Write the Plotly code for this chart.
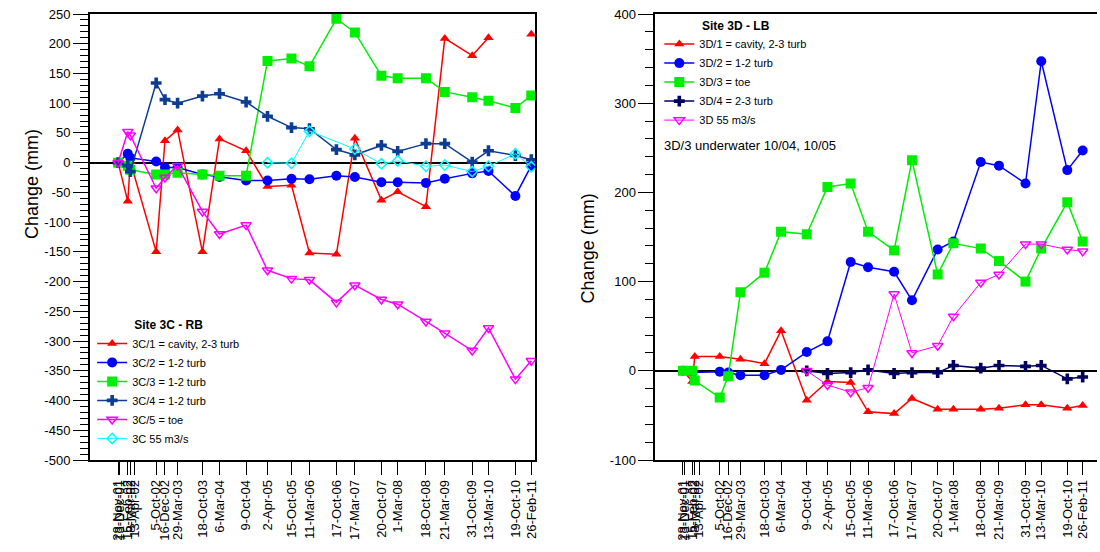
import plotly.graph_objects as go

# Survey dates (shared by both sites) and their axis labels
survey_dates = ["2001-11-28", "2001-12-13", "2002-02-15", "2002-03-08", "2002-04-13",
                "2002-10-05", "2002-12-16", "2003-03-29", "2003-10-18", "2004-03-06",
                "2004-10-09", "2005-04-02", "2005-10-15", "2006-03-11", "2006-10-17",
                "2007-03-17", "2007-10-20", "2008-03-01", "2008-10-18", "2009-03-21",
                "2009-10-31", "2010-03-13", "2010-10-19", "2011-02-26"]
date_labels = ["28-Nov-01", "13-Dec-01", "15-Feb-02", "8-Mar-02", "13-Apr-02",
               "5-Oct-02", "16-Dec-02", "29-Mar-03", "18-Oct-03", "6-Mar-04",
               "9-Oct-04", "2-Apr-05", "15-Oct-05", "11-Mar-06", "17-Oct-06",
               "17-Mar-07", "20-Oct-07", "1-Mar-08", "18-Oct-08", "21-Mar-09",
               "31-Oct-09", "13-Mar-10", "19-Oct-10", "26-Feb-11"]

# Site 3C - RB, change in mm (None = not surveyed)
c3_1 = [0, None, -65, 2, None, -150, 37, 55, -150, 40, 20, -40, -38, -152, -154, 41,
        -63, -49, -74, 209, 180, 210, None, 216]
c3_2 = [0, None, 15, 8, None, 2, -8, -8, -20, -24, -30, -30, -27, -28, -22, -24,
        -33, -33, -34, -27, -18, -14, -56, -5]
c3_3 = [0, None, -5, -12, None, -20, -20, -17, -20, -22, -22, 171, 175, 162, 242, 219,
        146, 142, 142, 119, 110, 104, 92, 113]
c3_4 = [0, None, -5, -15, None, 134, 106, 100, 112, 116, 102, 78, 59, 57, 22, 13,
        29, 19, 32, 32, 1, 20, 12, 5]
c3_5 = [0, None, 52, 46, None, -43, -25, -5, -82, -120, -105, -181, -195, -197, -235, -206,
        -230, -238, -267, -287, -316, -278, -364, -333]
c3_55 = [None, None, None, None, None, None, None, None, None, None, None, 0, -1, 53, None, 23,
         -2, 3, -6, -4, -15, -6, 15, -7]

# Site 3D - LB, change in mm
d3_1 = [0, None, -12, 16, None, 16, None, 13, 8, 45, -33, -12, -13, -46, -48, -31,
        -43, -43, -43, -42, -38, -38, -42, -39]
d3_2 = [0, None, -2, None, None, -1, -2, -5, -5, 1, 21, 33, 122, 116, 111, 79,
        136, 145, 234, 230, 210, 347, 225, 247]
d3_3 = [0, None, 0, -11, None, -30, -6, 88, 110, 156, 153, 206, 210, 156, 135, 236,
        108, 143, 137, 123, 100, 137, 189, 145]
d3_4 = [None, None, None, None, None, None, None, None, None, None, 0, -3, -2, 1, -3, -2,
        -2, 6, 3, 6, 5, 6, -9, -7]
d3_55 = [None, None, None, None, None, None, None, None, None, None, 0, -16, -24, -19, 86, 20,
         28, 61, 99, 108, 142, 142, 136, 134]

left_ticks = [250, 200, 150, 100, 50, 0, -50, -100, -150, -200, -250, -300, -350, -400, -450, -500]
right_ticks = [400, 300, 200, 100, 0, -100]

FONT = "Liberation Sans, Arial, sans-serif"


def series(name, vals, color, symbol, size, axis, legend, breaks=(), open_marker=False, lw=1.5):
    """Skip unsurveyed dates; a date in `breaks` ends the line segment."""
    xs, ys = [], []
    for d, v in zip(survey_dates, vals):
        if v is not None or d in breaks:
            xs.append(d)
            ys.append(v)
    marker = dict(symbol=symbol, size=size, color=color)
    if open_marker:
        marker = dict(symbol=symbol + "-open", size=size, color=color, line=dict(width=1.5, color=color))
    return go.Scatter(x=xs, y=ys, name=name, mode="lines+markers",
                      line=dict(color=color, width=lw), marker=marker,
                      connectgaps=False, xaxis="x" if axis == 1 else "x2",
                      yaxis="y" if axis == 1 else "y2", legend=legend)


fig = go.Figure()
fig.add_trace(series("3C/1 = cavity, 2-3 turb", c3_1, "#ff0000", "triangle-up", 9, 1, "legend",
                     breaks=("2010-10-19",)))
fig.add_trace(series("3C/2 = 1-2 turb", c3_2, "#0000ff", "circle", 10, 1, "legend"))
fig.add_trace(series("3C/3 = 1-2 turb", c3_3, "#00ee00", "square", 10, 1, "legend"))
fig.add_trace(series("3C/4 = 1-2 turb", c3_4, "#0d3d92", "cross", 9, 1, "legend"))
fig.add_trace(series("3C/5 = toe", c3_5, "#ff00ff", "triangle-down", 9, 1, "legend", open_marker=True))
fig.add_trace(series("3C 55 m3/s", c3_55, "#00ffff", "diamond", 8, 1, "legend", open_marker=True, lw=1))

fig.add_trace(series("3D/1 = cavity, 2-3 turb", d3_1, "#ff0000", "triangle-up", 9, 2, "legend2"))
fig.add_trace(series("3D/2 = 1-2 turb", d3_2, "#0000ff", "circle", 10, 2, "legend2"))
fig.add_trace(series("3D/3 = toe", d3_3, "#00ee00", "square", 10, 2, "legend2"))
fig.add_trace(series("3D/4 = 2-3 turb", d3_4, "#000060", "cross", 9, 2, "legend2"))
fig.add_trace(series("3D 55 m3/s", d3_55, "#ff00ff", "triangle-down", 9, 2, "legend2", open_marker=True, lw=1))

xaxis_common = dict(type="date", tickvals=survey_dates, ticktext=date_labels, tickangle=-90,
                    ticks="outside", ticklen=13, tickwidth=1, tickcolor="black",
                    showline=True, linecolor="black", linewidth=1.5, showgrid=False,
                    zeroline=False, tickfont=dict(size=13, color="black", family=FONT))
yaxis_common = dict(ticks="outside", ticklen=15, tickwidth=1, tickcolor="black",
                    showline=True, linecolor="black", linewidth=1.5, showgrid=False,
                    zeroline=True, zerolinecolor="black", zerolinewidth=1.5,
                    tickfont=dict(size=13, color="black", family=FONT))

legend_common = dict(xanchor="left", bgcolor="rgba(0,0,0,0)", borderwidth=0,
                     font=dict(size=11, color="black", family=FONT), tracegroupgap=0)

fig.update_layout(
    width=1100, height=552,
    margin=dict(l=0, r=0, t=14, b=92),
    paper_bgcolor="white", plot_bgcolor="white",
    font=dict(family=FONT, color="black"),
    xaxis=dict(domain=[0.0818, 0.488], range=["2001-04-10", "2011-03-31"], mirror=True,
               anchor="y", **xaxis_common),
    yaxis=dict(domain=[0, 1], range=[-500, 250], tickvals=left_ticks,
               ticktext=[str(v) for v in left_ticks], mirror=True, anchor="x",
               minor=dict(ticks="outside", ticklen=8, dtick=10, tickcolor="black"),
               **yaxis_common),
    xaxis2=dict(domain=[0.5973, 1.0], range=["2001-04-08", "2011-06-27"], mirror=True,
                anchor="y2", **xaxis_common),
    yaxis2=dict(domain=[0, 1], range=[-100, 400], tickvals=right_ticks,
                ticktext=[str(v) for v in right_ticks], anchor="x2",
                minor=dict(ticks="outside", ticklen=8, dtick=20, tickcolor="black"),
                **yaxis_common),
    legend=dict(x=0.084, y=0.015, yanchor="bottom",
                title=dict(text="<b>Site 3C - RB</b>", side="top center",
                           font=dict(size=12, color="black", family=FONT)),
                **legend_common),
    legend2=dict(x=0.601, y=1.0, yanchor="top",
                 title=dict(text="<b>Site 3D - LB</b>", side="top center",
                            font=dict(size=12, color="black", family=FONT)),
                 **legend_common),
    annotations=[
        dict(text="Change (mm)", textangle=-90, x=20 / 1100, y=(460 - 184) / 446,
             xref="paper", yref="paper", showarrow=False,
             font=dict(size=18, color="black", family=FONT)),
        dict(text="Change (mm)", textangle=-90, x=590 / 1100, y=(460 - 248) / 446,
             xref="paper", yref="paper", showarrow=False,
             font=dict(size=18, color="black", family=FONT)),
        dict(text="3D/3 underwater 10/04, 10/05", x=664 / 1100, y=(460 - 136) / 446,
             xref="paper", yref="paper", xanchor="left", showarrow=False,
             font=dict(size=13, color="black", family=FONT)),
    ],
)

fig.write_html("out.html")
